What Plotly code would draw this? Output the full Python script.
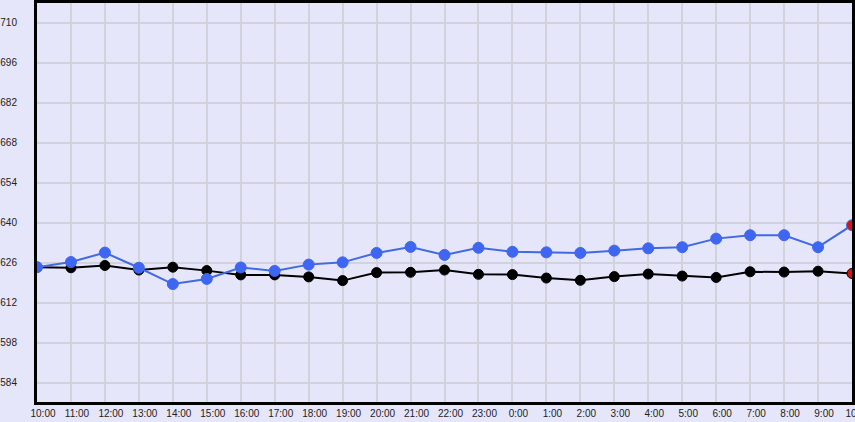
import plotly.graph_objects as go

hours = ["10:00", "11:00", "12:00", "13:00", "14:00", "15:00", "16:00", "17:00",
         "18:00", "19:00", "20:00", "21:00", "22:00", "23:00", "0:00", "1:00",
         "2:00", "3:00", "4:00", "5:00", "6:00", "7:00", "8:00", "9:00", "10:00"]

blue_vals = [624.4, 626.2, 629.5, 624.2, 618.5, 620.3, 624.3, 623.1, 625.3, 626.1,
             629.4, 631.5, 628.7, 631.2, 629.8, 629.6, 629.4, 630.2, 631.0, 631.4,
             634.4, 635.6, 635.6, 631.4, 639.1]

black_vals = [624.4, 624.2, 625.0, 623.4, 624.4, 623.2, 621.7, 621.7, 621.0, 619.7,
              622.5, 622.6, 623.4, 621.9, 621.8, 620.6, 619.8, 621.1, 622.0, 621.3,
              620.8, 622.8, 622.7, 623.0, 622.2]

y_ticks = [584, 598, 612, 626, 640, 654, 668, 682, 696, 710]

x = list(range(len(hours)))
n = len(hours)

def colors(base, last):
    return [base] * (n - 1) + [last]

fig = go.Figure()
fig.add_trace(go.Scatter(
    x=x, y=black_vals, mode="lines+markers",
    line=dict(color="black", width=2),
    marker=dict(size=10, color=colors("black", "#e01010"),
                line=dict(color="black", width=1)),
    cliponaxis=True, showlegend=False))
fig.add_trace(go.Scatter(
    x=x, y=blue_vals, mode="lines+markers",
    line=dict(color="#4169e1", width=2),
    marker=dict(size=11, color=colors("#3f66f0", "#e01010"),
                line=dict(color=colors("#3f66f0", "#4169e1"), width=1)),
    cliponaxis=True, showlegend=False))

fig.update_layout(
    width=855, height=422,
    margin=dict(l=37, r=3, t=3, b=20, autoexpand=False),
    paper_bgcolor="#e6e6fa", plot_bgcolor="#e6e6fa",
    font=dict(family="Liberation Sans, Arial, sans-serif", size=10, color="#222"),
)
fig.update_xaxes(
    range=[0, n - 1], tickmode="array", tickvals=x, ticktext=hours,
    showgrid=True, gridcolor="#d2d2dc", gridwidth=1.5,
    showline=True, linecolor="black", linewidth=3, mirror=True,
    ticks="", ticklabelshift=6, ticklabelstandoff=0, zeroline=False,
    ticklabeloverflow="allow",
    automargin=False,
)
fig.update_yaxes(
    range=[577.2, 716.9], tickmode="array", tickvals=y_ticks,
    showgrid=True, gridcolor="#d2d2dc", gridwidth=1.5,
    showline=True, linecolor="black", linewidth=3, mirror=True,
    ticks="", ticklabelstandoff=15, zeroline=False,
    automargin=False,
)

fig.write_html("out.html", post_script="document.body.style.margin='0';",
               config={"displayModeBar": False})
